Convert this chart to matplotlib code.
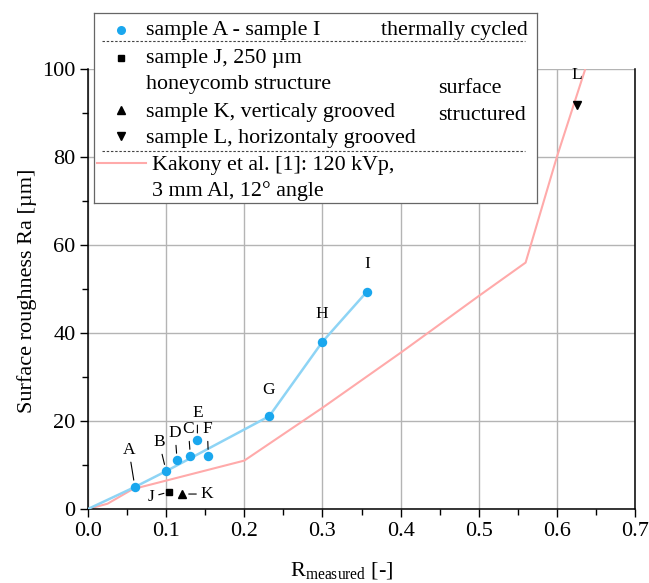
import numpy as np
import matplotlib
matplotlib.use("Agg")
import matplotlib.pyplot as plt
from matplotlib.ticker import MultipleLocator, FormatStrFormatter

plt.rcParams['font.family'] = ['Liberation Serif', 'DejaVu Serif']
plt.rcParams['mathtext.fontset'] = 'custom'
plt.rcParams['mathtext.rm'] = 'Liberation Serif'
plt.rcParams['mathtext.it'] = 'Liberation Serif'

# thermally cycled samples A - I
labels_ai = ['A', 'B', 'C', 'D', 'E', 'F', 'G', 'H', 'I']
r_ai = [0.060, 0.100, 0.131, 0.114, 0.140, 0.154, 0.232, 0.300, 0.357]
ra_ai = [5.0, 8.6, 12.0, 11.1, 15.7, 12.0, 21.1, 38.0, 49.4]

# connecting line of the thermally cycled samples
trend_r = [0.0, 0.060, 0.100, 0.232, 0.300, 0.357]
trend_ra = [0.0, 5.0, 8.6, 21.1, 38.0, 49.4]

# surface structured samples
r_j, ra_j = [0.104], [3.9]
r_k, ra_k = [0.120], [3.4]
r_l, ra_l = [0.626], [91.8]

# Kakony et al. [1]
kakony_r = [0.0, 0.025, 0.057, 0.200, 0.300, 0.400, 0.500, 0.560, 0.600, 0.640]
kakony_ra = [0.0, 1.2, 4.5, 11.0, 23.0, 35.5, 48.4, 56.0, 80.0, 102.0]

BLUE = '#1aa7ee'
LIGHT_BLUE = '#8ed4f5'
PINK = '#ffaaaa'

W, H = 649, 583
fig = plt.figure(figsize=(W / 100, H / 100), dpi=100)
ax = fig.add_axes([88 / W, 1 - 509 / H, 547 / W, 440 / H])

ax.plot(kakony_r, kakony_ra, color=PINK, lw=1.5, zorder=2)
ax.plot(trend_r, trend_ra, color=LIGHT_BLUE, lw=1.8, zorder=3)
ax.plot(r_ai, ra_ai, 'o', color=BLUE, ms=6.8, mec='none', zorder=4)
ax.plot(r_j, ra_j, 's', color='k', ms=5, zorder=4)
ax.plot(r_k, ra_k, '^', color='k', ms=6, zorder=4)
ax.plot(r_l, ra_l, 'v', color='k', ms=6, zorder=4)

# point labels: offset in pixels, leader line or not
offsets = {
    'A': (-6, 37, True), 'B': (-7, 29, True), 'C': (-2, 27, True),
    'D': (-2, 27, True), 'E': (0, 27, True), 'F': (-1, 27, True),
    'G': (-1, 26, False), 'H': (-1, 28, False), 'I': (0, 28, False),
}
lab_fs = 12.5
for lab, x, y in zip(labels_ai, r_ai, ra_ai):
    dx, dy, lead = offsets[lab]
    ap = dict(arrowstyle='-', color='k', lw=0.8, shrinkA=1, shrinkB=5) if lead else None
    ax.annotate(lab, (x, y), xytext=(dx, dy), textcoords='offset pixels',
                ha='center', va='center', fontsize=lab_fs, arrowprops=ap, zorder=5)

ax.annotate('J', (r_j[0], ra_j[0]), xytext=(-18, -5), textcoords='offset pixels',
            ha='center', va='center', fontsize=lab_fs,
            arrowprops=dict(arrowstyle='-', color='k', lw=0.8, shrinkA=1, shrinkB=4))
ax.annotate('K', (r_k[0], ra_k[0]), xytext=(25, 0), textcoords='offset pixels',
            ha='center', va='center', fontsize=lab_fs,
            arrowprops=dict(arrowstyle='-', color='k', lw=0.8, shrinkA=1, shrinkB=5))
ax.annotate('L', (r_l[0], ra_l[0]), xytext=(0, 30), textcoords='offset pixels',
            ha='center', va='center', fontsize=lab_fs)

ax.set_xlim(0, 0.7)
ax.set_ylim(0, 100)
ax.xaxis.set_major_locator(MultipleLocator(0.1))
ax.xaxis.set_minor_locator(MultipleLocator(0.05))
ax.xaxis.set_major_formatter(FormatStrFormatter('%.1f'))
ax.yaxis.set_major_locator(MultipleLocator(20))
ax.yaxis.set_minor_locator(MultipleLocator(10))
ax.tick_params(which='major', direction='out', length=6, width=1, labelsize=16, pad=3)
ax.tick_params(which='minor', direction='out', length=4.5, width=1)
ax.grid(True, which='major', color='#b4b4b4', lw=1)
ax.set_axisbelow(True)
ax.spines['top'].set_visible(False)
for s in ['left', 'bottom', 'right']:
    ax.spines[s].set_linewidth(1.1)

ax.set_xlabel(r'R$_{\mathrm{measured}}$ [-]', fontsize=16)
ax.xaxis.set_label_coords(0.464, -0.115)
ax.set_ylabel('Surface roughness Ra [µm]', fontsize=16)
ax.yaxis.set_label_coords(-0.093, 0.495)

# legend box, drawn in image pixel coordinates
lg = fig.add_axes([94 / W, 1 - 203 / H, 443 / W, 190 / H], zorder=10)
lg.set_xlim(94, 537)
lg.set_ylim(203, 13)
lg.set_xticks([])
lg.set_yticks([])
for s in lg.spines.values():
    s.set_color('#666666')
    s.set_linewidth(0.9)

fs = 15.8
lg.plot([121], [30], 'o', color=BLUE, ms=6.5, mec='none')
lg.text(146, 35, 'sample A - sample I', fontsize=fs, va='baseline')
lg.text(528, 35, 'thermally cycled', fontsize=fs, va='baseline', ha='right')
lg.plot([102, 525], [41, 41], color='#444444', lw=0.8, ls=(0, (2.2, 1.6)))
lg.plot([121], [58], 's', color='k', ms=5)
lg.text(146, 63, 'sample J, 250 µm', fontsize=fs, va='baseline')
lg.text(146, 89, 'honeycomb structure', fontsize=fs, va='baseline')
lg.plot([121], [110], '^', color='k', ms=6)
lg.text(146, 117, 'sample K, verticaly grooved', fontsize=fs, va='baseline')
lg.plot([121], [136], 'v', color='k', ms=6)
lg.text(146, 143, 'sample L, horizontaly grooved', fontsize=fs, va='baseline')
lg.text(438, 93, 'surface', fontsize=fs, va='baseline')
lg.text(438, 120, 'structured', fontsize=fs, va='baseline')
lg.plot([102, 525], [151, 151], color='#444444', lw=0.8, ls=(0, (2.2, 1.6)))
lg.plot([97, 146], [163, 163], color=PINK, lw=1.5)
lg.text(152, 170, 'Kakony et al. [1]: 120 kVp,', fontsize=fs, va='baseline')
lg.text(152, 196, '3 mm Al, 12° angle', fontsize=fs, va='baseline')

fig.savefig('out.png', dpi=100)
